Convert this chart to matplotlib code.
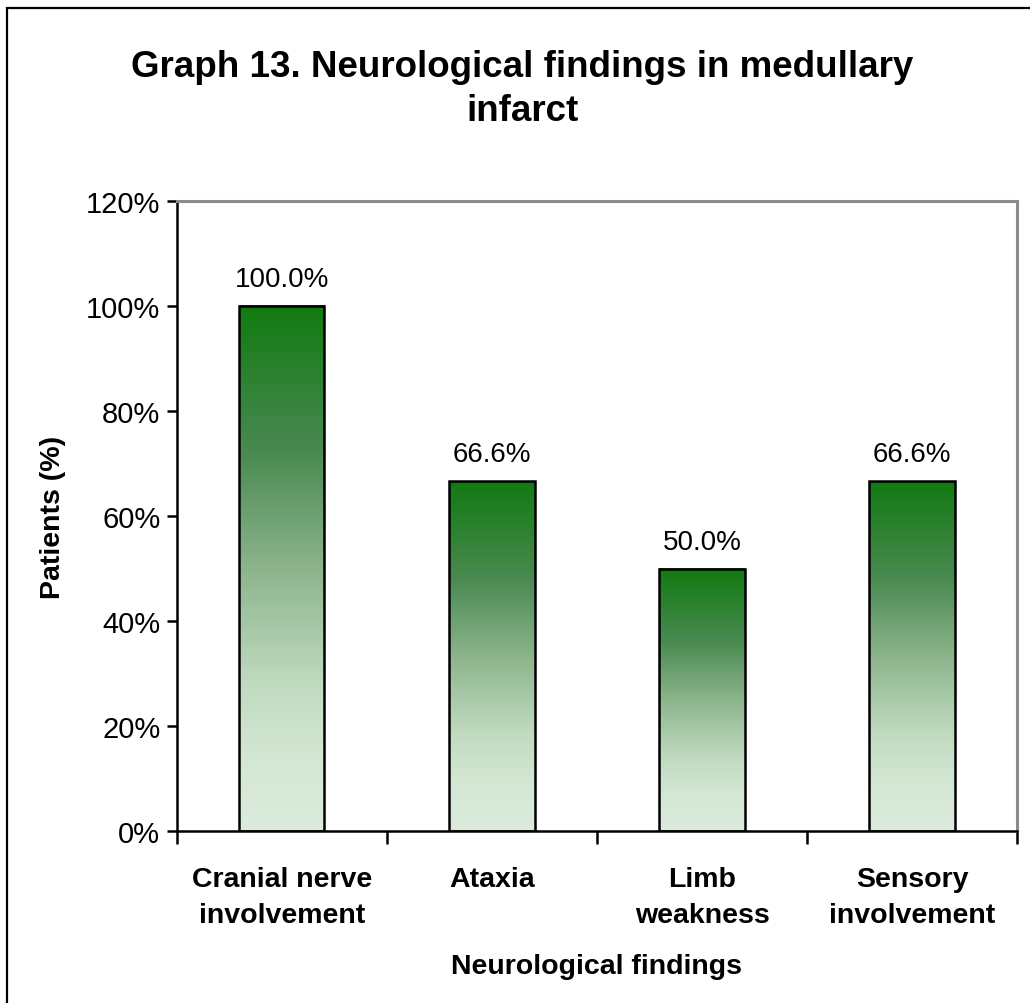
"""Bar chart of neurological findings in medullary infarct, with green
gradient-filled bars."""

import matplotlib.pyplot as plt
import numpy as np
from matplotlib.colors import LinearSegmentedColormap
from matplotlib.patches import Rectangle
from matplotlib.ticker import FixedLocator, PercentFormatter

plt.rcParams["font.family"] = ["Liberation Sans", "DejaVu Sans"]

findings = ["Cranial nerve\ninvolvement", "Ataxia", "Limb\nweakness", "Sensory\ninvolvement"]
patients_pct = [100.0, 66.6, 50.0, 66.6]
value_labels = ["100.0%", "66.6%", "50.0%", "66.6%"]

# dark green at the top of each bar fading to pale green at its base
green_fade = LinearSegmentedColormap.from_list(
    "green_fade",
    [(0.0, "#117a11"), (0.28, "#4a8a52"), (0.5, "#8cb48c"),
     (0.72, "#c0dac0"), (0.86, "#d3e7d3"), (1.0, "#dcebdc")],
)

fig = plt.figure(figsize=(10.30, 10.04), dpi=100)
ax = fig.add_axes([0.1718, 0.1713, 0.8156, 0.6275])

x = np.arange(len(findings))
bars = ax.bar(x, patients_pct, width=0.405, color="none",
              edgecolor="black", linewidth=1.8, zorder=3)

grad = np.linspace(0, 1, 256).reshape(-1, 1)
for bar in bars:
    x0, y0 = bar.get_x(), bar.get_y()
    w, h = bar.get_width(), bar.get_height()
    ax.imshow(grad, cmap=green_fade, aspect="auto", origin="upper",
              extent=(x0, x0 + w, y0, y0 + h), zorder=2, interpolation="bilinear")

for xi, val, lab in zip(x, patients_pct, value_labels):
    ax.annotate(lab, (xi, val), xytext=(0, 10), textcoords="offset points",
                ha="center", va="bottom", fontsize=20)

ax.set_xlim(-0.5, len(findings) - 0.5)
ax.set_ylim(0, 120)
ax.set_yticks(np.arange(0, 121, 20))
ax.yaxis.set_major_formatter(PercentFormatter(decimals=0))
ax.tick_params(axis="y", labelsize=21, length=7, width=1.8, direction="out", pad=5)

ax.set_xticks(x)
ax.set_xticklabels(findings, fontsize=20.5, fontweight="bold", linespacing=1.5)
ax.tick_params(axis="x", which="major", length=0, pad=25)
ax.xaxis.set_minor_locator(FixedLocator(np.arange(-0.5, len(findings), 1.0)))
ax.tick_params(axis="x", which="minor", length=9, width=1.8, direction="out")

ax.set_xlabel("Neurological findings", fontsize=20.5, fontweight="bold", labelpad=18)
ax.set_ylabel("Patients (%)", fontsize=20.5, fontweight="bold", labelpad=14)

for side in ("left", "bottom"):
    ax.spines[side].set_color("black")
    ax.spines[side].set_linewidth(1.8)
for side in ("top", "right"):
    ax.spines[side].set_color("#8c8c8c")
    ax.spines[side].set_linewidth(2.2)

fig.text(0.507, 0.911, "Graph 13. Neurological findings in medullary\ninfarct",
         ha="center", va="center", fontsize=26.5, fontweight="bold", linespacing=1.32)

# chart frame around the whole figure
fig.patches.append(Rectangle((7 / 1030, -0.05), 1.1, 1.05 - 9 / 1004,
                             transform=fig.transFigure, fill=False,
                             edgecolor="black", linewidth=1.6))

fig.savefig("out.png", dpi=100)
